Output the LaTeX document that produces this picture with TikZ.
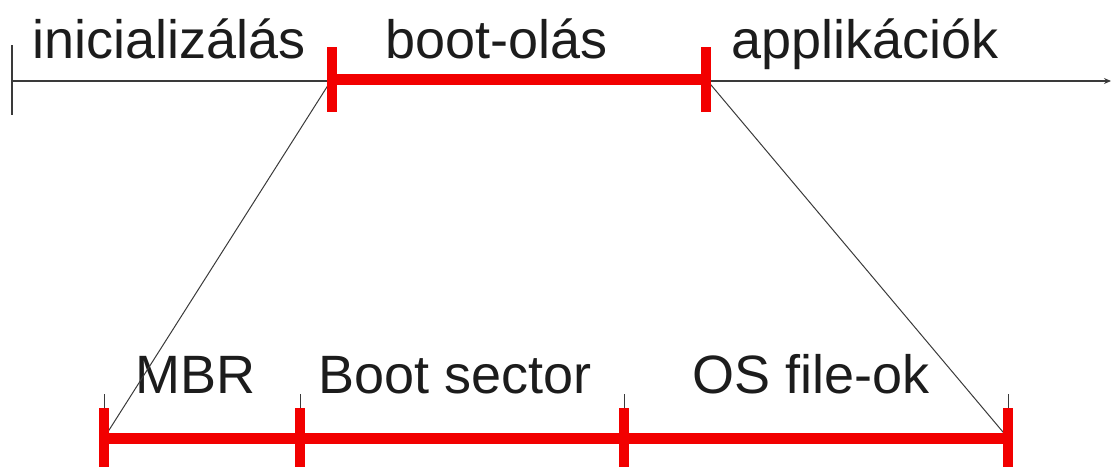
\documentclass[tikz,border=0pt]{standalone}
\usepackage{fontspec}
\setmainfont{Liberation Sans}
\usepackage{tikz}
\usetikzlibrary{
  arrows.meta,
  positioning,
  calc
}
\definecolor{bpRed}{HTML}{F20000}
\definecolor{bpInk}{HTML}{1C1C1C}
\definecolor{bpAxis}{HTML}{3A3A3A}
\tikzset{
  phase/.style={
    anchor=base west, inner sep=0pt, text=bpInk,
    font=\fontsize{54}{60}\selectfont
  },
  axisline/.style={-{Stealth[length=7pt, width=6pt]}, line width=1.4pt, bpAxis},
  axistick/.style={line width=1.4pt, bpAxis},
  zoomline/.style={line width=1pt, bpAxis},
  redbar/.style={line width=11pt, bpRed},
  redtick/.style={line width=10pt, bpRed}
}

\begin{document}
\begin{tikzpicture}[x=1pt, y=-1pt]
  \useasboundingbox (0,0) rectangle (1113,466);
  % time axis
  \coordinate (axstart) at (12,81);
  \coordinate (axend) at (1111,81);
  \coordinate (bootA) at (332,79);
  \coordinate (bootB) at (706,79);
  % detailed boot sequence
  \coordinate (mbr) at (104,438);
  \coordinate (bsec) at (300,438);
  \coordinate (osf) at (624,438);
  \coordinate (fin) at (1008,438);
  \node[phase] (init) at (32,58) {inicializálás};
  \node[phase] (boot) at (385,58) {boot-olás};
  \node[phase] (appl) at (731,58) {applikációk};
  \node[phase] (mbrtxt) at (135,393) {MBR};
  \node[phase] (bsectxt) at (318,393) {Boot sector};
  \node[phase] (osftxt) at (692,393) {OS file-ok};
  \draw[axisline] (axstart) -- (axend);
  \draw[axistick] ($(axstart)+(0,-36)$) -- ($(axstart)+(0,34)$);
  \draw[zoomline] (bootA) -- (mbr);
  \draw[zoomline] (bootB) -- (fin);
  \foreach \t in {mbr,bsec,osf,fin}
    \draw[axistick, line width=1pt] ($(\t)+(0,-44)$) -- ($(\t)+(0,-28)$);
  % red phase bars
  \draw[redbar] (bootA) -- (bootB);
  \foreach \t in {bootA,bootB}
    \draw[redtick] ($(\t)+(0,-32)$) -- ($(\t)+(0,33)$);
  \draw[redbar] (mbr) -- (fin);
  \foreach \t in {mbr,bsec,osf,fin}
    \draw[redtick] ($(\t)+(0,-30)$) -- ($(\t)+(0,30)$);
\end{tikzpicture}
\end{document}
